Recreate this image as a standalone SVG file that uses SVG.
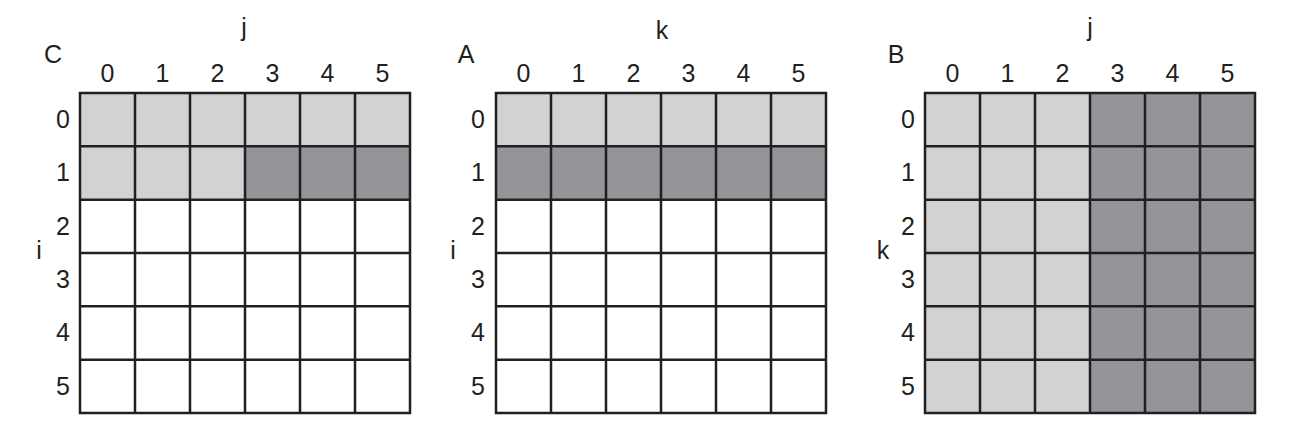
<svg xmlns="http://www.w3.org/2000/svg" width="1299" height="438" viewBox="0 0 1299 438">
<style>
text{font-family:"Liberation Sans",Arial,sans-serif;font-size:25px;fill:#231f20;text-anchor:middle}
.l{fill:#d1d2d4}
.d{fill:#939598}
.g{fill:none;stroke:#231f20;stroke-width:2.5}
</style>
<rect width="1299" height="438" fill="#fff"/>
<g id="matrixC">
<rect class="l" x="80" y="93" width="330" height="53.3"/>
<rect class="l" x="80" y="146.3" width="165" height="53.4"/>
<rect class="d" x="245" y="146.3" width="165" height="53.4"/>
<path class="g" d="M80,93H410V413H80Z M135,93V413 M190,93V413 M245,93V413 M300,93V413 M355,93V413 M80,146.3H410 M80,199.7H410 M80,253H410 M80,306.3H410 M80,359.7H410"/>
<text x="53" y="63">C</text>
<text x="244" y="36">j</text>
<text x="39" y="259">i</text>
<text x="107.5" y="82">0</text><text x="162.5" y="82">1</text><text x="217.5" y="82">2</text><text x="272.5" y="82">3</text><text x="327.5" y="82">4</text><text x="382.5" y="82">5</text>
<text x="63" y="128">0</text><text x="63" y="181">1</text><text x="63" y="235">2</text><text x="63" y="288">3</text><text x="63" y="341">4</text><text x="63" y="395">5</text>
</g>
<g id="matrixA">
<rect class="l" x="496" y="93" width="330" height="53.3"/>
<rect class="d" x="496" y="146.3" width="330" height="53.4"/>
<path class="g" d="M496,93H826V413H496Z M551,93V413 M606,93V413 M661,93V413 M716,93V413 M771,93V413 M496,146.3H826 M496,199.7H826 M496,253H826 M496,306.3H826 M496,359.7H826"/>
<text x="466" y="63">A</text>
<text x="662" y="39">k</text>
<text x="453" y="259">i</text>
<text x="523.5" y="82">0</text><text x="578.5" y="82">1</text><text x="633.5" y="82">2</text><text x="688.5" y="82">3</text><text x="743.5" y="82">4</text><text x="798.5" y="82">5</text>
<text x="478" y="128">0</text><text x="478" y="181">1</text><text x="478" y="235">2</text><text x="478" y="288">3</text><text x="478" y="341">4</text><text x="478" y="395">5</text>
</g>
<g id="matrixB">
<rect class="l" x="925" y="93" width="165" height="320"/>
<rect class="d" x="1090" y="93" width="165" height="320"/>
<path class="g" d="M925,93H1255V413H925Z M980,93V413 M1035,93V413 M1090,93V413 M1145,93V413 M1200,93V413 M925,146.3H1255 M925,199.7H1255 M925,253H1255 M925,306.3H1255 M925,359.7H1255"/>
<text x="896" y="63">B</text>
<text x="1090" y="36">j</text>
<text x="883" y="259">k</text>
<text x="952.5" y="82">0</text><text x="1007.5" y="82">1</text><text x="1062.5" y="82">2</text><text x="1117.5" y="82">3</text><text x="1172.5" y="82">4</text><text x="1227.5" y="82">5</text>
<text x="908" y="128">0</text><text x="908" y="181">1</text><text x="908" y="235">2</text><text x="908" y="288">3</text><text x="908" y="341">4</text><text x="908" y="395">5</text>
</g>
<g id="connectors"/>
</svg>
